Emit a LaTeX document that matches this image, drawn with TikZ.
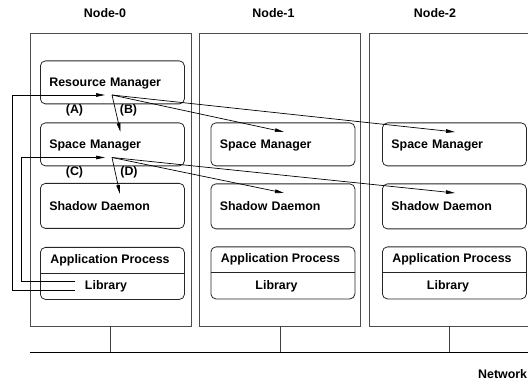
\documentclass[tikz,border=0pt]{standalone}
\usepackage{fontspec}
\setmainfont{Liberation Sans}
\usetikzlibrary{arrows.meta}
\begin{document}
\begin{tikzpicture}[x=1pt,y=-1pt,
  txt/.style={font=\bfseries\fontsize{12.4}{14}\selectfont, inner sep=0pt},
  hostbox/.style={draw=black!70, line width=0.8pt, minimum width=161pt,
    minimum height=292.5pt, inner sep=0pt, anchor=north west},
  part/.style={draw=black!85, line width=0.8pt, rounded corners=5pt,
    minimum width=144pt, minimum height=43pt, inner xsep=9pt, inner ysep=0pt,
    text width=126pt, text depth=0pt, align=left, anchor=north west,
    font=\bfseries\fontsize{12.4}{14}\selectfont},
  appbox/.style={draw=black!85, line width=0.8pt, rounded corners=5pt,
    minimum width=144pt, minimum height=52pt, inner sep=0pt, anchor=north west},
  wire/.style={draw=black!75, line width=0.8pt},
  link/.style={line width=0.7pt, -{Triangle[length=9pt,width=3.6pt]}},
]
\clip (0,0) rectangle (528,385);
\useasboundingbox (0,0) rectangle (528,385);

% host headings
\node[txt] (h0) at (105,13) {Node-0};
\node[txt] (h1) at (273.5,13) {Node-1};
\node[txt] (h2) at (435,13) {Node-2};

% host frames
\node[hostbox] (n0) at (30,33) {};
\node[hostbox] (n1) at (199,33) {};
\node[hostbox, minimum width=180pt] (n2) at (369,33) {};

% Node-0 components
\node[part] (rm0) at (40,60.5) {Resource Manager};
\node[part] (sm0) at (40,122.5) {Space Manager};
\node[part, minimum height=45pt] (sd0) at (40,183) {Shadow Daemon};
\node[appbox] (app0) at (40,247) {};
\draw[line width=0.8pt, draw=black!85] (40,273) -- (184,273);
\node[txt] (ap0) at (110,260) {Application Process};
\node[txt] (lib0) at (106,286.5) {Library};

% Node-1 components
\node[part] (sm1) at (210.5,122.5) {Space Manager};
\node[part, minimum height=45pt] (sd1) at (210.5,183.5) {Shadow Daemon};
\node[appbox] (app1) at (210.5,246.5) {};
\draw[line width=0.8pt, draw=black!85] (210.5,272.5) -- (354.5,272.5);
\node[txt] (ap1) at (280.5,259.5) {Application Process};
\node[txt] (lib1) at (276.5,286) {Library};

% Node-2 components
\node[part] (sm2) at (382,122.5) {Space Manager};
\node[part, minimum height=45pt] (sd2) at (382,183.5) {Shadow Daemon};
\node[appbox] (app2) at (382,246.5) {};
\draw[line width=0.8pt, draw=black!85] (382,272.5) -- (526,272.5);
\node[txt] (ap2) at (452,259.5) {Application Process};
\node[txt] (lib2) at (448,286) {Library};

% network bus
\coordinate (busL) at (30,352);
\coordinate (busR) at (540,352);
\draw[line width=0.8pt] (busL) -- (busR);
\draw[wire] (n0.south -| 110,0) -- (110,352);
\draw[wire] (n1.south -| 280,0) -- (280,352);
\draw[wire] (n2.south -| 449,0) -- (449,352);
\node[txt, anchor=west] (net) at (478,374) {Network};

% request paths from the library
\coordinate (hubR) at (112,95);
\coordinate (hubS) at (112,157.5);
\coordinate (inR) at (105,95);
\coordinate (inS) at (105,157.5);
\coordinate (libA) at (75,290.7);
\coordinate (libC) at (75,281.7);
\coordinate (turnA) at (12,95);
\coordinate (turnC) at (21,157.5);
\draw[link] (libA) -| (turnA) -- (inR);
\draw[link] (libC) -| (turnC) -- (inS);

% fan-out targets
\coordinate (tsm0) at (120.5,132);
\coordinate (tsm1) at (284,132);
\coordinate (tsm2) at (455,132);
\coordinate (tsd0) at (120,194);
\coordinate (tsd1) at (284,193);
\coordinate (tsd2) at (455,193);
\draw[link] (hubR) -- (tsm0);
\draw[link] (hubR) -- (tsm1);
\draw[link] (hubR) -- (tsm2);
\draw[link] (hubS) -- (tsd0);
\draw[link] (hubS) -- (tsd1);
\draw[link] (hubS) -- (tsd2);

% step labels
\node[txt] (lA) at (74.5,110) {(A)};
\node[txt] (lB) at (128.5,110) {(B)};
\node[txt] (lC) at (74.5,172) {(C)};
\node[txt] (lD) at (129,172) {(D)};
\end{tikzpicture}
\end{document}
